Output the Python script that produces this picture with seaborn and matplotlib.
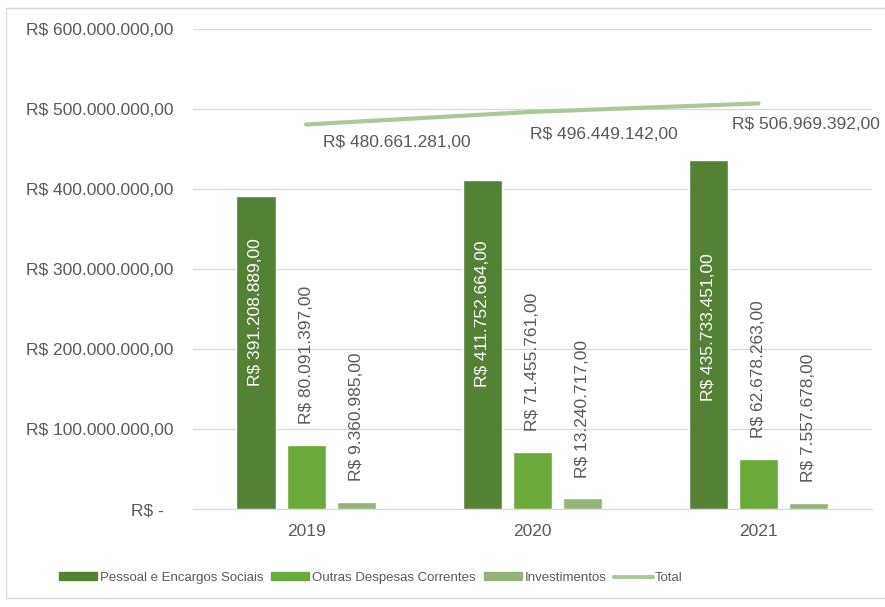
import numpy as np
import pandas as pd
import seaborn as sns
import matplotlib.pyplot as plt
from matplotlib.patches import Rectangle
from matplotlib.ticker import FuncFormatter

years = ["2019", "2020", "2021"]
series = ["Pessoal e Encargos Sociais", "Outras Despesas Correntes", "Investimentos"]
pessoal = [391208889, 411752664, 435733451]
outras = [80091397, 71455761, 62678263]
investimentos = [9360985, 13240717, 7557678]
totais = [480661281, 496449142, 506969392]

colors = ["#548235", "#6aaa3a", "#93b37c"]
line_color = "#a9c99a"
text_color = "#595959"


def brl(v):
    s = f"{v:,.2f}"
    s = s.replace(",", "X").replace(".", ",").replace("X", ".")
    return "R$ " + s


df = pd.DataFrame({
    "ano": years * 3,
    "serie": [series[0]] * 3 + [series[1]] * 3 + [series[2]] * 3,
    "valor": pessoal + outras + investimentos,
})

sns.set_style("white")
plt.rcParams["font.family"] = ["Liberation Sans", "DejaVu Sans"]

fig = plt.figure(figsize=(8.85, 6.07), dpi=100)
ax = fig.add_axes([0.218, 0.1614, 0.767, 0.7908])

sns.barplot(data=df, x="ano", y="valor", hue="serie", palette=colors,
            width=0.664, gap=0.22, ax=ax, legend=False, saturation=1)

x = np.arange(len(years))
sns.lineplot(x=x, y=totais, ax=ax, color=line_color, linewidth=3,
             label="Total", legend=False)

ax.set_ylim(0, 600000000)
ax.set_xlim(-0.5, 2.5)
ax.set_yticks(np.arange(0, 600000001, 100000000))
ax.yaxis.set_major_formatter(FuncFormatter(lambda v, p: "R$ -  " if v == 0 else brl(v)))
ax.grid(axis="y", color="#d9d9d9", linewidth=1)
ax.set_axisbelow(True)
for s in ["top", "right", "left"]:
    ax.spines[s].set_visible(False)
ax.spines["bottom"].set_color("#d9d9d9")
ax.tick_params(axis="both", length=0, labelsize=12.5, colors=text_color)
ax.tick_params(axis="y", pad=14)
ax.tick_params(axis="x", pad=11)
ax.set_xlabel("")
ax.set_ylabel("")

# value labels
dark, mid, light = ax.containers[0], ax.containers[1], ax.containers[2]
dark_shift = [51e6, 38e6, 9e6]
for bar, v, sh in zip(dark, pessoal, dark_shift):
    ax.text(bar.get_x() + bar.get_width() / 2, v / 2 + sh, brl(v), rotation=90,
            ha="center", va="center", color="white", fontsize=12.5)
ax.bar_label(mid, labels=[brl(v) for v in outras], rotation=90, padding=15,
             color=text_color, fontsize=12.5)
ax.bar_label(light, labels=[brl(v) for v in investimentos], rotation=90, padding=15,
             color=text_color, fontsize=12.5)

tot_offsets = [(12, -13), (-2, -16), (-19, -15)]
for xi, t, off in zip(x, totais, tot_offsets):
    ax.annotate(brl(t), (xi, t), xytext=off, textcoords="offset points",
                ha="left", va="center", color=text_color, fontsize=12.5,
                annotation_clip=False)

handles = [Rectangle((0, 0), 1, 1, color=c) for c in colors]
handles.append(plt.Line2D([0], [0], color=line_color, linewidth=3))
fig.legend(handles, series + ["Total"], loc="center", bbox_to_anchor=(0.419, 0.048),
           ncol=4, frameon=False, fontsize=9.5, handlelength=2.9, handleheight=0.5,
           handletextpad=0.2, columnspacing=0.6, labelcolor=text_color)

fig.patches.append(Rectangle((6 / 885, 1 - 598 / 607), 1.0, 590 / 607,
                             transform=fig.transFigure, fill=False,
                             edgecolor="#d9d9d9", linewidth=1))

fig.savefig("out.png", dpi=100)
